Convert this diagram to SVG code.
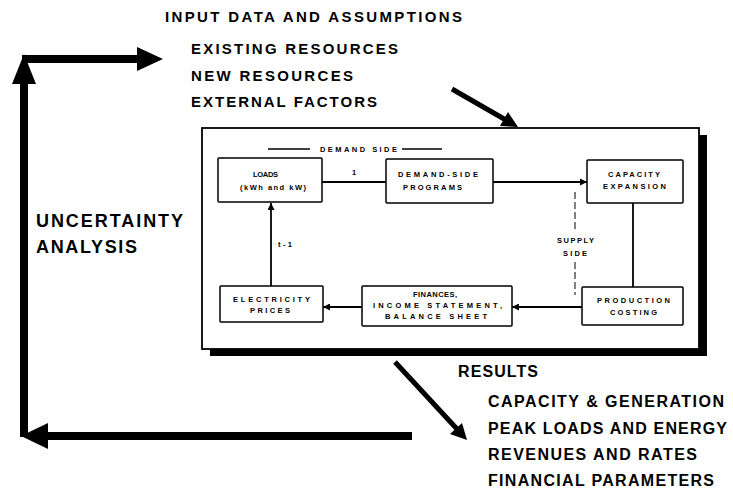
<svg xmlns="http://www.w3.org/2000/svg" width="733" height="488" viewBox="0 0 733 488">
<defs>
<style>
text{font-family:"Liberation Sans",Arial,Helvetica,sans-serif;font-weight:bold;fill:#000}
.t15{font-size:15px}
.t16{font-size:16px}
.t18{font-size:18px}
.sm{font-size:7.5px}
.box{fill:#fff;stroke:#000;stroke-width:1.5}
.ln{stroke:#000;stroke-width:1.8;fill:none}
.dash{stroke:#000;stroke-width:1;fill:none;stroke-dasharray:7 3}
.big{fill:#000}
</style>
<marker id="ah" viewBox="0 0 10 10" refX="10" refY="5" markerWidth="7" markerHeight="7" markerUnits="userSpaceOnUse" orient="auto">
<path d="M0,0 L10,5 L0,10 z" fill="#000"/>
</marker>
</defs>
<rect width="733" height="488" fill="#fff"/>

<g id="input-text">
<text class="t15" x="165" y="22" textLength="297" lengthAdjust="spacing">INPUT DATA AND ASSUMPTIONS</text>
<text class="t15" x="191" y="54" textLength="207" lengthAdjust="spacing">EXISTING RESOURCES</text>
<text class="t15" x="191" y="81" textLength="162" lengthAdjust="spacing">NEW RESOURCES</text>
<text class="t15" x="191" y="107" textLength="186" lengthAdjust="spacing">EXTERNAL FACTORS</text>
</g>

<g id="uncertainty-text">
<text class="t18" x="36" y="227" textLength="147" lengthAdjust="spacing">UNCERTAINTY</text>
<text class="t18" x="36" y="253" textLength="101" lengthAdjust="spacing">ANALYSIS</text>
</g>

<g id="results-text">
<text class="t16" x="458" y="377" textLength="80" lengthAdjust="spacing">RESULTS</text>
<text class="t16" x="488" y="407" textLength="236" lengthAdjust="spacing">CAPACITY &amp; GENERATION</text>
<text class="t16" x="488" y="434" textLength="239" lengthAdjust="spacing">PEAK LOADS AND ENERGY</text>
<text class="t16" x="488" y="460" textLength="209" lengthAdjust="spacing">REVENUES AND RATES</text>
<text class="t16" x="488" y="486" textLength="226" lengthAdjust="spacing">FINANCIAL PARAMETERS</text>
</g>

<g id="panel">
<rect x="210" y="135" width="497" height="221" fill="#000"/>
<rect x="202" y="128" width="497" height="221" fill="#fff" stroke="#000" stroke-width="1.8"/>
<line x1="268" y1="149" x2="310" y2="149" stroke="#000" stroke-width="1.5"/>
<line x1="402" y1="149" x2="442" y2="149" stroke="#000" stroke-width="1.5"/>
<text class="sm" x="320" y="152" textLength="77" lengthAdjust="spacing">DEMAND SIDE</text>
<text class="sm" x="557" y="243" textLength="37" lengthAdjust="spacing">SUPPLY</text>
<text class="sm" x="563" y="256" textLength="24" lengthAdjust="spacing">SIDE</text>
</g>

<g id="connectors">
<line class="ln" x1="322" y1="182" x2="386" y2="182" stroke-width="2.5"/>
<text class="sm" x="352" y="175">1</text>
<line class="ln" x1="493" y1="182" x2="587" y2="182" marker-end="url(#ah)"/>
<line class="ln" x1="633" y1="203" x2="633" y2="287"/>
<line class="ln" x1="582" y1="307" x2="512" y2="307" marker-end="url(#ah)"/>
<line class="ln" x1="362" y1="307" x2="323" y2="307" marker-end="url(#ah)"/>
<line class="ln" x1="271" y1="286" x2="271" y2="203" marker-end="url(#ah)"/>
<text class="sm" x="278" y="247" textLength="14" lengthAdjust="spacing">t-1</text>
<line class="dash" x1="575" y1="192" x2="575" y2="232"/>
<line class="dash" x1="575" y1="262" x2="575" y2="295"/>

<line x1="452" y1="89" x2="505" y2="119.5" stroke="#000" stroke-width="5"/>
<polygon class="big" points="518,127 500,126 508,112"/>
<line x1="395" y1="362" x2="457" y2="429" stroke="#000" stroke-width="5"/>
<polygon class="big" points="467,440 450,434 462,423"/>

<rect class="big" x="20" y="80" width="8" height="357"/>
<polygon class="big" points="24,54 12,84 36,84"/>
<rect class="big" x="22" y="55" width="117" height="8"/>
<polygon class="big" points="137,47 163,59 137,71"/>
<rect class="big" x="45" y="432" width="367" height="8"/>
<polygon class="big" points="21,436 48,423 48,449"/>
</g>

<g id="loads">
<rect class="box" x="218" y="158" width="104" height="44" rx="1"/>
<text class="sm" x="253" y="177" textLength="25" lengthAdjust="spacing">LOADS</text>
<text class="sm" x="240" y="190" textLength="66" lengthAdjust="spacing">(kWh and kW)</text>
</g>

<g id="demand-side-programs">
<rect class="box" x="386" y="159" width="107" height="44" rx="1"/>
<text class="sm" x="398" y="177" textLength="80" lengthAdjust="spacing">DEMAND-SIDE</text>
<text class="sm" x="403" y="190" textLength="59" lengthAdjust="spacing">PROGRAMS</text>
</g>

<g id="capacity-expansion">
<rect class="box" x="587" y="160" width="96" height="43" rx="1"/>
<text class="sm" x="608" y="177" textLength="52" lengthAdjust="spacing">CAPACITY</text>
<text class="sm" x="603" y="189" textLength="63" lengthAdjust="spacing">EXPANSION</text>
</g>

<g id="production-costing">
<rect class="box" x="582" y="287" width="101" height="38" rx="1"/>
<text class="sm" x="597" y="303" textLength="73" lengthAdjust="spacing">PRODUCTION</text>
<text class="sm" x="610" y="315" textLength="47" lengthAdjust="spacing">COSTING</text>
</g>

<g id="finances">
<rect class="box" x="362" y="286" width="150" height="40" rx="1"/>
<text class="sm" x="413" y="297" textLength="44" lengthAdjust="spacing">FINANCES,</text>
<text class="sm" x="373" y="308" textLength="129" lengthAdjust="spacing">INCOME STATEMENT,</text>
<text class="sm" x="385" y="319" textLength="102" lengthAdjust="spacing">BALANCE SHEET</text>
</g>

<g id="electricity-prices">
<rect class="box" x="220" y="286" width="103" height="36" rx="1"/>
<text class="sm" x="233" y="302" textLength="77" lengthAdjust="spacing">ELECTRICITY</text>
<text class="sm" x="250" y="313" textLength="40" lengthAdjust="spacing">PRICES</text>
</g>
</svg>
